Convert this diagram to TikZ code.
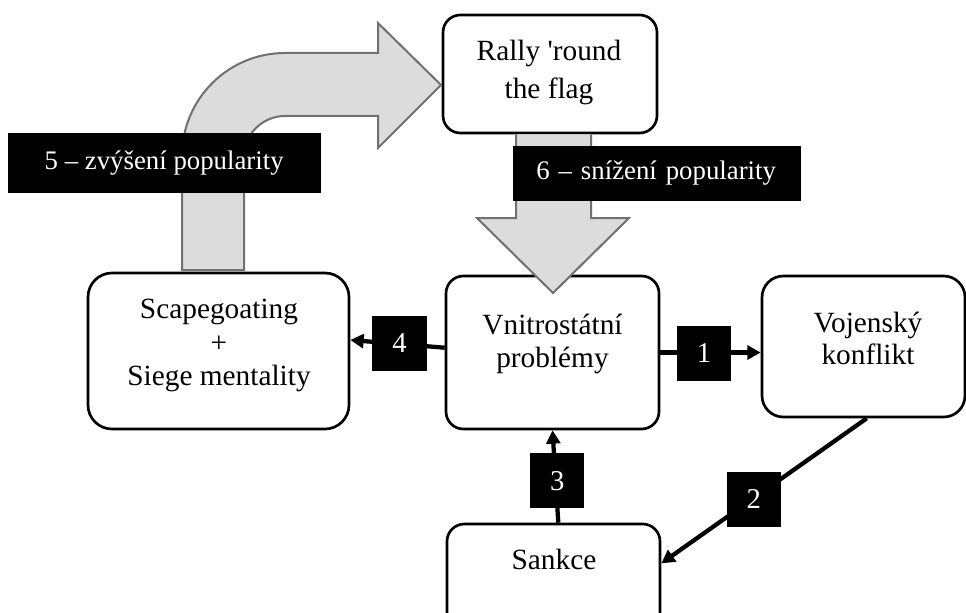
\documentclass[tikz,border=0pt]{standalone}
\usepackage{fontspec}
\setmainfont{Liberation Serif}
\usepackage{tikz}
\usetikzlibrary{arrows.meta}
\definecolor{arrowgray}{HTML}{DCDCDC}
\definecolor{edgegray}{HTML}{707070}
\tikzset{
    box/.style={draw=black, line width=2pt, fill=white, rounded corners=13pt, inner sep=0pt},
    boxtext/.style={anchor=north, align=center, inner sep=0pt, font=\fontsize{22pt}{25pt}\selectfont},
    lab/.style={fill=black, text=white, inner sep=0pt, font=\fontsize{21.5pt}{25pt}\selectfont},
    poplab/.style={lab, font=\fontsize{20.1pt}{24pt}\selectfont, minimum height=43pt},
    conn/.style={draw=black, line width=3.2pt, -{Triangle[length=10pt,width=10.5pt]}},
    bigarrow/.style={draw=edgegray, fill=arrowgray, line width=1.5pt, line join=miter},
}

\begin{document}
\begin{tikzpicture}[x=0.75pt, y=-0.75pt]
\useasboundingbox (0,0) rectangle (966,613);
\clip (0,0) rectangle (966,613);

% boxes
\node[box, minimum width=160.5pt, minimum height=88.5pt] (rally) at (550,74) {};
\node[box, rounded corners=18pt, minimum width=195.75pt, minimum height=117pt] (scape) at (218.5,351) {};
\node[box, minimum width=159.75pt, minimum height=114.75pt] (vnitro) at (552.5,352.5) {};
\node[box, rounded corners=16pt, minimum width=152.25pt, minimum height=105.75pt] (vojen) at (863.5,346.5) {};
\node[box, minimum width=159.75pt, minimum height=90pt] (sankce) at (553.5,584) {};

\node[boxtext] (rallytxt) at (549,40) {Rally \textquotesingle round\\[3.5pt]the flag};
\node[boxtext] (scapetxt) at (219,299.3) {Scapegoating\\+\\Siege mentality};
\node[boxtext] (vnitrotxt) at (552.5,314) {Vnitrostátní\\problémy};
\node[boxtext] (vojentxt) at (868,311.7) {Vojenský\\[-1.2pt]konflikt};
\node[boxtext] (sankcetxt) at (554,548.6) {Sankce};

% big gray arrows
\draw[bigarrow] (182,270) -- (182,156) arc[start angle=180, end angle=270, radius=103]
    -- (378,53) -- (378,23) -- (441,85) -- (378,148) -- (378,116) -- (285,116)
    arc[start angle=270, end angle=180, radius=41] -- (244,270) -- cycle;
\draw[bigarrow] (516,134.5) -- (516,218) -- (477,218) -- (553,293) -- (629,218) -- (591,218) -- (591,134.5);

% connectors
\draw[conn] (vnitro.east) -- (vnitro.east -| vojen.west);
\draw[conn] ([yshift=3.6pt]vnitro.west) -- ([yshift=8.25pt]scape.east);
\draw[conn] ([xshift=3.6pt]sankce.north) -- (vnitro.south);
\draw[conn] ([xshift=2.4pt]vojen.south) -- ([yshift=15.5pt]sankce.east);

% labels
\node[lab, minimum width=40.8pt, minimum height=41.25pt] (n1) at (704,353.2) {1};
\node[lab, minimum width=40.8pt, minimum height=41.25pt] (n2) at (753.8,499.2) {2};
\node[lab, minimum width=40.8pt, minimum height=41.25pt] (n3) at (557.2,480.8) {3};
\node[lab, minimum width=40.8pt, minimum height=41.25pt] (n4) at (399.5,343.2) {4};
\node[poplab, minimum width=234.75pt, minimum height=45.5pt] (pop5) at (164.2,163) {5 -- zvýšení popularity};
\node[poplab, text width=181pt, align=left, inner xsep=17.25pt, minimum height=41.25pt] (pop6) at (657,173.5) {6 -- snížení popularity};
\end{tikzpicture}
\end{document}
